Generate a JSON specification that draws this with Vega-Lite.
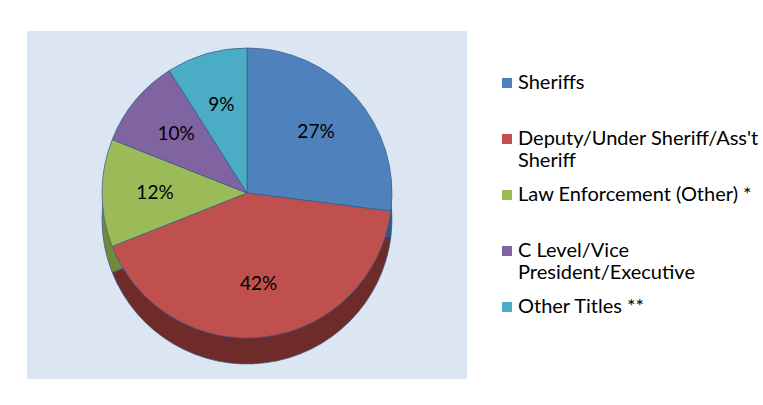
{
  "$schema": "https://vega.github.io/schema/vega-lite/v6.json",
  "width": 440,
  "height": 348,
  "autosize": {"type": "none"},
  "padding": {"left": 27, "top": 31, "right": 296, "bottom": 26},
  "background": "white",
  "view": {"fill": "#DCE6F2", "stroke": null},
  "data": {
    "values": [
      {"title": "Sheriffs", "pct": 27, "label": "27%", "order": 1},
      {"title": "Deputy/Under Sheriff/Ass't Sheriff", "pct": 42, "label": "42%", "order": 2},
      {"title": "Law Enforcement (Other) *", "pct": 12, "label": "12%", "order": 3},
      {"title": "C Level/Vice President/Executive", "pct": 10, "label": "10%", "order": 4},
      {"title": "Other Titles **", "pct": 9, "label": "9%", "order": 5}
    ]
  },
  "layer": [
    {
      "mark": {"type": "arc", "outerRadius": 145, "yOffset": 14, "stroke": "#3B5E8C", "strokeWidth": 0.75},
      "encoding": {
        "theta": {"field": "pct", "type": "quantitative", "stack": true},
        "order": {"field": "order", "type": "quantitative"},
        "color": {
          "field": "title", "type": "nominal",
          "scale": {
            "domain": ["Sheriffs", "Deputy/Under Sheriff/Ass't Sheriff", "Law Enforcement (Other) *", "C Level/Vice President/Executive", "Other Titles **"],
            "range": ["#2E5686", "#6E2B29", "#6E8A3A", "#574477", "#2F7A8E"]
          },
          "legend": null
        }
      }
    },
    {
      "mark": {"type": "arc", "outerRadius": 145, "yOffset": -12, "stroke": "#3B5E8C", "strokeWidth": 0.75},
      "encoding": {
        "theta": {"field": "pct", "type": "quantitative", "stack": true},
        "order": {"field": "order", "type": "quantitative"},
        "color": {
          "field": "title", "type": "nominal",
          "scale": {
            "domain": ["Sheriffs", "Deputy/Under Sheriff/Ass't Sheriff", "Law Enforcement (Other) *", "C Level/Vice President/Executive", "Other Titles **"],
            "range": ["#4F81BD", "#C0504D", "#9BBB59", "#8064A2", "#4BACC6"]
          },
          "legend": {
            "orient": "none",
            "legendX": 470,
            "legendY": 42,
            "title": null,
            "padding": 0,
            "symbolType": "square",
            "symbolSize": 100,
            "symbolStrokeWidth": 0,
            "labelFont": "Lato",
            "labelFontSize": 20,
            "labelColor": "#000000",
            "labelOffset": 1,
            "labelLimit": 320,
            "rowPadding": 14,
            "labelExpr": "datum.label == \"Deputy/Under Sheriff/Ass't Sheriff\" ? [\"Deputy/Under Sheriff/Ass't\", \"Sheriff\"] : datum.label == \"C Level/Vice President/Executive\" ? [\"C Level/Vice\", \"President/Executive\"] : [datum.label, \" \"]"
          }
        }
      }
    },
    {
      "mark": {"type": "text", "radius": 92, "yOffset": -12, "font": "Lato", "fontSize": 19, "color": "#000000"},
      "encoding": {
        "theta": {"field": "pct", "type": "quantitative", "stack": true},
        "order": {"field": "order", "type": "quantitative"},
        "text": {"field": "label", "type": "nominal"}
      }
    }
  ],
  "resolve": {"scale": {"color": "independent"}}
}
